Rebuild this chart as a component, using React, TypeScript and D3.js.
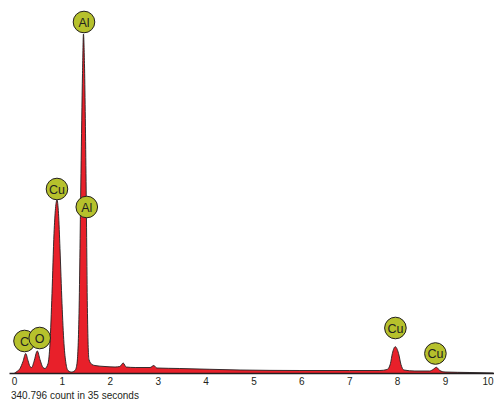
import React from "react";
import * as d3 from "d3";

// Spectrum samples: energy (keV) and counts (arbitrary units)
const energies = [
  0, 0.052, 0.115, 0.177, 0.234, 0.282, 0.324, 0.359, 0.407, 0.476, 0.532, 0.595, 0.637,
  0.7, 0.741, 0.783, 0.825, 0.856, 0.887, 0.919, 0.95, 0.992, 1.033, 1.075, 1.117, 1.19,
  1.263, 1.305, 1.347, 1.388, 1.42, 1.44, 1.461, 1.493, 1.524, 1.555, 1.618, 1.68, 1.89,
  2.1, 2.2, 2.27, 2.33, 2.52, 2.83, 2.91, 2.97, 3.45, 4.71, 5.96, 7.0, 7.63, 7.78, 7.85,
  7.89, 7.95, 8.02, 8.07, 8.13, 8.36, 8.67, 8.74, 8.81, 8.88, 8.99, 9.51, 10,
];
const counts = [
  5, 20, 50, 120, 200, 130, 70, 60, 120, 225, 140, 60, 50,
  100, 300, 800, 1400, 1650, 1735, 1600, 1250, 700, 300, 100, 30, 15,
  30, 100, 600, 2000, 3000, 3395, 3100, 2000, 600, 140, 90, 80, 70,
  65, 70, 105, 65, 60, 60, 80, 55, 50, 35, 30, 30, 30, 40, 100,
  200, 268, 200, 90, 35, 25, 25, 40, 62, 30, 15, 10, 5,
];

// Element markers: label, energy, count at marker centre
const markerLabels = ["C", "O", "Cu", "Al", "Al", "Cu", "Cu"];
const markerEnergies = [0.209, 0.526, 0.887, 1.451, 1.509, 7.954, 8.789];
const markerCounts = [325, 355, 1845, 3515, 1665, 455, 200];

const tickValues = [0, 1, 2, 3, 4, 5, 6, 7, 8, 9, 10];
const caption = "340.796 count in 35 seconds";

export default function App() {
  const W = 494;
  const H = 400;
  const x = d3.scaleLinear().domain([0, 10]).range([14.5, 493.4]);
  const y = d3.scaleLinear().domain([0, 3395]).range([373.5, 34]);
  const data = energies.map((e, i) => ({ e, c: counts[i] }));
  const area = d3
    .area<{ e: number; c: number }>()
    .x((d) => x(d.e))
    .y0(y(0))
    .y1((d) => y(d.c))
    .curve(d3.curveMonotoneX);
  const line = d3
    .line<{ e: number; c: number }>()
    .x((d) => x(d.e))
    .y((d) => y(d.c))
    .curve(d3.curveMonotoneX);
  const font = "'Liberation Sans', Arial, sans-serif";
  return (
    <svg
      width={W}
      height={H}
      style={{ position: "absolute", left: 0, top: 0, background: "#fff" }}
    >
      <defs>
        <linearGradient id="fade" gradientUnits="userSpaceOnUse" x1={x(8.9)} x2={x(10)} y1={0} y2={0}>
          <stop offset="0" stopColor="#e8202a" />
          <stop offset="1" stopColor="#3a2a2a" />
        </linearGradient>
      </defs>
      <path d={area(data) || ""} fill="url(#fade)" />
      <path d={line(data) || ""} fill="none" stroke="#231f20" strokeWidth={0.9} />
      <line x1={9.5} x2={W} y1={y(0)} y2={y(0)} stroke="#231f20" strokeWidth={1.3} />
      {tickValues.map((t, i) => {
        const last = i === tickValues.length - 1;
        return (
          <text
            key={t}
            x={last ? W - 0.5 : x(t)}
            y={385}
            textAnchor={last ? "end" : "middle"}
            fontFamily={font}
            fontSize={10}
            fill="#231f20"
          >
            {t}
          </text>
        );
      })}
      <text x={11} y={399} fontFamily={font} fontSize={10} fill="#231f20">
        {caption}
      </text>
      {markerLabels.map((lab, i) => (
        <g key={i} transform={`translate(${x(markerEnergies[i])},${y(markerCounts[i])})`}>
          <circle r={10.8} fill="#b6c12c" stroke="#231f20" strokeWidth={1} />
          <text
            textAnchor="middle"
            dy="0.36em"
            fontFamily={font}
            fontSize={12.5}
            fill="#231f20"
          >
            {lab}
          </text>
        </g>
      ))}
    </svg>
  );
}
